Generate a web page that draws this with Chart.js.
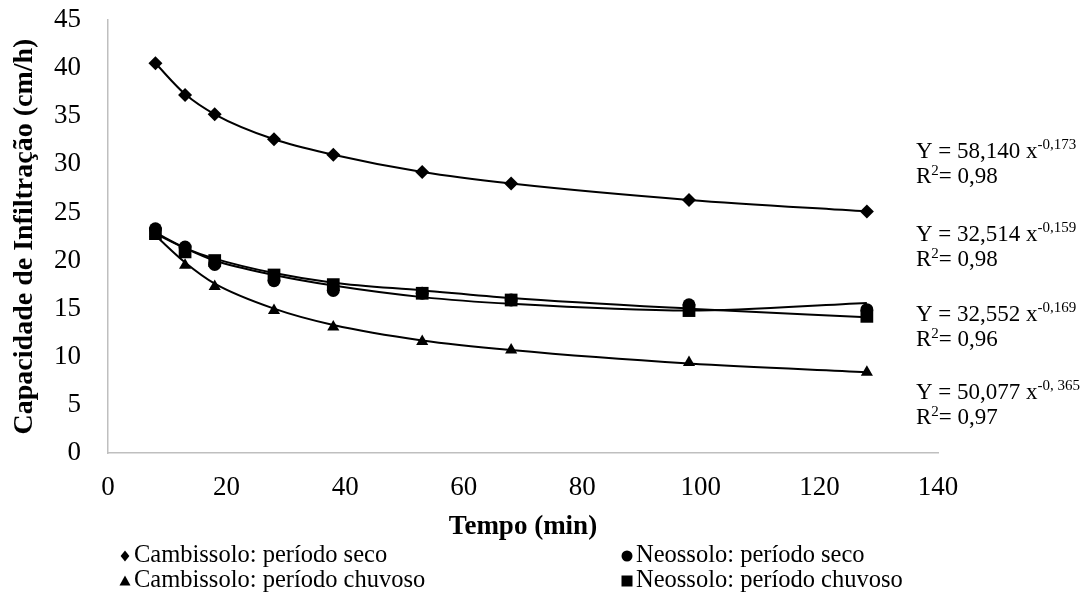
<!DOCTYPE html>
<html>
<head>
<meta charset="utf-8">
<script src="https://cdn.jsdelivr.net/npm/chart.js@4.4.1/dist/chart.umd.min.js"></script>
<style>
html,body{margin:0;padding:0;background:#fff;}
#wrap{width:1089px;height:611px;position:relative;}
</style>
</head>
<body>
<div id="wrap"><canvas id="c" width="1089" height="611"></canvas></div>
<script>
// ---- data ----
const tempo = [8, 13, 18, 28, 38, 53, 68, 98, 128];
const cambSeco      = [40.5, 37.2, 35.2, 32.6, 31.0, 29.2, 28.0, 26.3, 25.1];
const neoSeco       = [23.3, 21.4, 19.6, 17.9, 16.9, 16.6, 15.9, 15.4, 14.9];
const cambChuvoso   = [22.8, 19.5, 17.3, 14.8, 13.1, 11.6, 10.7, 9.4, 8.4];
const neoChuvoso    = [22.8, 20.9, 20.0, 18.5, 17.5, 16.6, 15.9, 14.8, 14.2];
// trend curves at the same times
const cambSecoFit    = [40.5, 37.3, 35.2, 32.6, 31.0, 29.2, 28.0, 26.3, 25.1];
const neoSecoFit     = [22.9, 21.3, 20.0, 18.5, 17.4, 16.2, 15.5, 14.8, 15.6];
const cambChuvosoFit = [22.6, 19.8, 17.6, 15.0, 13.3, 11.7, 10.7, 9.3, 8.4];
const neoChuvosoFit  = [22.8, 21.3, 20.2, 18.7, 17.7, 16.9, 16.1, 15.0, 14.1];

const seriesLabels = ['Cambissolo: período seco', 'Neossolo: período seco',
                      'Cambissolo: período chuvoso', 'Neossolo: período chuvoso'];
const eqCoef = ['58,140', '32,514', '32,552', '50,077'];
const eqExp  = ['-0,173', '-0,159', '-0,169', '-0, 365'];
const eqR2   = ['0,98', '0,98', '0,96', '0,97'];
const yTicksMax = 45, yStep = 5, xMax = 140, xStep = 20;

const pts = arr => tempo.map((t, i) => ({x: t, y: arr[i]}));
const serif = '"Liberation Serif", "Times New Roman", serif';

function pointSet(label, arr, style, r) {
  return {label, data: pts(arr), showLine: false, pointStyle: style, pointRadius: r,
    pointHoverRadius: r, backgroundColor: '#000', borderColor: '#000', borderWidth: 0, order: 0};
}
function fitSet(arr) {
  return {label: '_fit', data: pts(arr), showLine: true, pointRadius: 0, borderColor: '#000',
    borderWidth: 2, cubicInterpolationMode: 'monotone', fill: false, order: 1};
}

const datasets = [
  pointSet(seriesLabels[0], cambSeco, 'rectRot', 7),
  pointSet(seriesLabels[1], neoSeco, 'circle', 6.5),
  pointSet(seriesLabels[2], cambChuvoso, 'triangle', 7),
  pointSet(seriesLabels[3], neoChuvoso, 'rect', 9),
  fitSet(cambSecoFit), fitSet(neoSecoFit), fitSet(cambChuvosoFit), fitSet(neoChuvosoFit)
];

function drawSym(ctx, style, x, y, s) {
  ctx.fillStyle = '#000';
  ctx.beginPath();
  if (style === 'rectRot') {
    ctx.moveTo(x, y - s); ctx.lineTo(x + s * 0.8, y); ctx.lineTo(x, y + s); ctx.lineTo(x - s * 0.8, y);
  } else if (style === 'circle') {
    ctx.arc(x, y, s, 0, Math.PI * 2);
  } else if (style === 'triangle') {
    ctx.moveTo(x, y - s); ctx.lineTo(x + s, y + s * 0.8); ctx.lineTo(x - s, y + s * 0.8);
  } else {
    ctx.rect(x - s, y - s, 2 * s, 2 * s);
  }
  ctx.closePath();
  ctx.fill();
}

const extras = {
  id: 'extras',
  afterDraw(chart) {
    const ctx = chart.ctx;
    ctx.save();
    // legend
    const ds = chart.data.datasets.filter(d => d.label !== '_fit');
    const cols = [125, 627], rows = [556, 581];
    ctx.font = '24.5px ' + serif;
    ctx.textBaseline = 'middle';
    ctx.textAlign = 'left';
    ds.forEach((d, i) => {
      const cx = cols[i % 2], cy = rows[Math.floor(i / 2)];
      drawSym(ctx, d.pointStyle, cx, cy, 5.5);
      ctx.fillStyle = '#000';
      ctx.fillText(d.label, cx + 9, cy);
    });
    // equations
    const eqY = [152, 235, 315, 393];
    eqCoef.forEach((c, i) => {
      const x0 = 916, y0 = eqY[i];
      ctx.font = '23px ' + serif;
      ctx.textBaseline = 'middle';
      const main = 'Y = ' + c + ' x';
      ctx.fillText(main, x0, y0);
      const w = ctx.measureText(main).width;
      ctx.font = '15px ' + serif;
      ctx.fillText(eqExp[i], x0 + w, y0 - 7);
      ctx.font = '23px ' + serif;
      const y1 = y0 + 25;
      ctx.fillText('R', x0, y1);
      const wr = ctx.measureText('R').width;
      ctx.font = '15px ' + serif;
      ctx.fillText('2', x0 + wr, y1 - 6);
      const w2 = ctx.measureText('2').width;
      ctx.font = '23px ' + serif;
      ctx.fillText('= ' + eqR2[i], x0 + wr + w2, y1);
    });
    ctx.restore();
  }
};

const hiddenTicks = len => ({display: true, drawOnChartArea: false, drawTicks: true,
  tickLength: len, tickColor: 'rgba(0,0,0,0)', color: 'rgba(0,0,0,0)'});

new Chart(document.getElementById('c'), {
  type: 'scatter',
  data: {datasets},
  plugins: [extras],
  options: {
    responsive: false,
    animation: false,
    events: [],
    layout: {padding: {left: 0, right: 151, top: 20, bottom: 68}},
    plugins: {legend: {display: false}, tooltip: {enabled: false}},
    scales: {
      x: {
        type: 'linear', min: 0, max: xMax,
        ticks: {stepSize: xStep, color: '#000', font: {family: serif, size: 27}, padding: 0, maxRotation: 0},
        grid: hiddenTicks(19),
        border: {display: true, color: '#bfbfbf', width: 1.5},
        title: {display: true, text: 'Tempo (min)', color: '#000',
          font: {family: serif, size: 27, weight: 'bold'}, padding: {top: 0, bottom: 0}},
        afterFit(s) { s.height = 90; }
      },
      y: {
        type: 'linear', min: 0, max: yTicksMax,
        ticks: {stepSize: yStep, color: '#000', font: {family: serif, size: 27}, padding: 0},
        grid: hiddenTicks(27),
        border: {display: true, color: '#bfbfbf', width: 1.5},
        title: {display: true, text: 'Capacidade de Infiltração (cm/h)', color: '#000',
          font: {family: serif, size: 28, weight: 'bold'}, padding: {top: 8, bottom: 0}},
        afterFit(s) { s.width = 108; }
      }
    }
  }
});
</script>
</body>
</html>
